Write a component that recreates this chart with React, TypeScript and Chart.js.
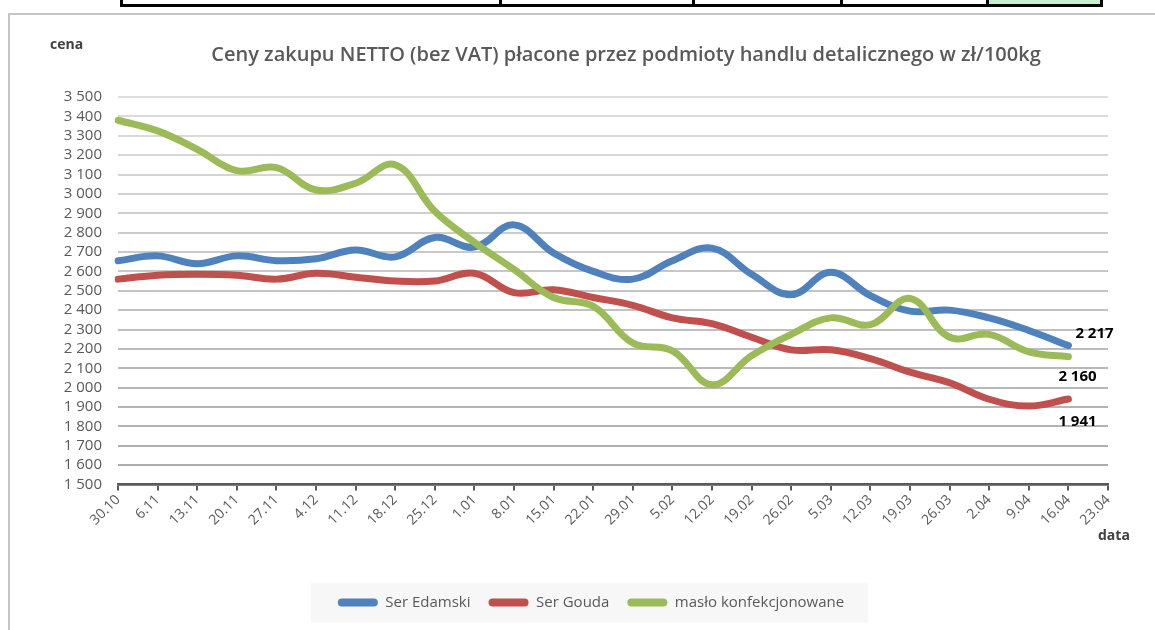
import React, { useEffect, useRef } from 'react';
import { Chart, registerables } from 'chart.js';

Chart.register(...registerables);

// ---- data ----
const dates = ['30.10', '6.11', '13.11', '20.11', '27.11', '4.12', '11.12', '18.12', '25.12', '1.01', '8.01', '15.01', '22.01', '29.01', '5.02', '12.02', '19.02', '26.02', '5.03', '12.03', '19.03', '26.03', '2.04', '9.04', '16.04', '23.04'];
const serEdamski = [2655, 2680, 2640, 2680, 2655, 2665, 2710, 2675, 2775, 2725, 2840, 2695, 2600, 2560, 2655, 2720, 2585, 2480, 2595, 2475, 2395, 2400, 2360, 2295, 2217];
const serGouda = [2560, 2580, 2585, 2580, 2560, 2590, 2570, 2550, 2550, 2590, 2490, 2505, 2465, 2425, 2360, 2330, 2260, 2195, 2195, 2150, 2080, 2025, 1940, 1905, 1941];
const masloKonf = [3380, 3325, 3230, 3120, 3135, 3020, 3055, 3150, 2910, 2750, 2610, 2465, 2420, 2230, 2190, 2015, 2165, 2275, 2360, 2325, 2460, 2260, 2275, 2185, 2160];
const seriesNames = ['Ser Edamski', 'Ser Gouda', 'masło konfekcjonowane'];
const titleText = 'Ceny zakupu NETTO (bez VAT) płacone przez podmioty handlu detalicznego w zł/100kg';
const yAxisTitle = 'cena';
const xAxisTitle = 'data';
const yMin = 1500;
const yMax = 3500;
const yStep = 100;

// ---- styles ----
const FONT = '"Open Sans", "Noto Sans", sans-serif';
const seriesColors = ['#4F81BD', '#C0504D', '#9BBB59'];
const endLabelOffsets = [
  [7, -12],
  [-10, 23],
  [-10, 20],
];
const CANVAS_H = 630;

const fmt = (v: number) => String(Math.round(v)).replace(/\B(?=(\d{3})+(?!\d))/g, '\u00a0');

function mix(a: number[], b: number[], t: number) {
  const c = a.map((v, i) => Math.round(v + (b[i] - v) * t));
  return `rgb(${c[0]},${c[1]},${c[2]})`;
}

const decorPlugin = {
  id: 'decor',
  beforeDraw(chart: any) {
    const ctx = chart.ctx;
    const lg = chart.legend;
    if (lg && lg.legendHitBoxes && lg.legendHitBoxes.length) {
      const hb = lg.legendHitBoxes;
      const l = Math.min(...hb.map((b: any) => b.left)) - 27;
      const r = Math.max(...hb.map((b: any) => b.left + b.width)) + 24;
      const t = hb[0].top + hb[0].height / 2 - 20;
      ctx.save();
      ctx.fillStyle = '#f7f7f7';
      ctx.fillRect(l, t, r - l, 40);
      ctx.restore();
    }
  },
  afterDatasetsDraw(chart: any) {
    const ctx = chart.ctx;
    ctx.save();
    ctx.font = `bold 15px ${FONT}`;
    ctx.fillStyle = '#000000';
    ctx.textAlign = 'left';
    ctx.textBaseline = 'middle';
    chart.data.datasets.forEach((ds: any, i: number) => {
      const meta = chart.getDatasetMeta(i);
      const pts = meta.data;
      const last = pts[ds.data.length - 1];
      if (!last) return;
      const v = ds.data[ds.data.length - 1];
      ctx.fillText(fmt(v), last.x + endLabelOffsets[i][0], last.y + endLabelOffsets[i][1]);
    });
    ctx.restore();
  },
  afterDraw(chart: any) {
    const ctx = chart.ctx;
    const area = chart.chartArea;
    ctx.save();
    ctx.fillStyle = '#595959';
    ctx.font = `600 20px ${FONT}`;
    ctx.textAlign = 'center';
    ctx.textBaseline = 'middle';
    ctx.fillText(titleText, 626, 55);
    ctx.fillStyle = '#404040';
    ctx.font = `bold 14px ${FONT}`;
    ctx.textAlign = 'left';
    ctx.fillText(yAxisTitle, 50, 45);
    ctx.fillText(xAxisTitle, area.right - 10, area.bottom + 52);
    ctx.restore();
  },
};

export default function App() {
  const ref = useRef<HTMLCanvasElement | null>(null);

  useEffect(() => {
    if (!ref.current) return;
    const series = [serEdamski, serGouda, masloKonf];
    const chart = new Chart(ref.current, {
      type: 'line',
      data: {
        labels: dates,
        datasets: series.map((d, i) => ({
          label: seriesNames[i],
          data: d,
          borderColor: seriesColors[i],
          backgroundColor: seriesColors[i],
          borderWidth: 7,
          tension: 0.4,
          pointRadius: 0,
          pointHoverRadius: 0,
          borderCapStyle: 'round' as const,
          borderJoinStyle: 'round' as const,
          fill: false,
          order: 3 - i,
          yAxisID: 'y',
        })),
      },
      options: {
        responsive: false,
        animation: false,
        devicePixelRatio: 1,
        events: [],
        layout: { padding: { top: 97, left: 27, right: 0, bottom: 10 } },
        plugins: {
          title: { display: false },
          tooltip: { enabled: false },
          legend: {
            display: true,
            position: 'bottom',
            labels: {
              boxWidth: 40,
              boxHeight: 8,
              padding: 18,
              color: '#595959',
              font: { family: FONT, size: 15 },
              useBorderRadius: true,
              borderRadius: 4,
              sort: (a: any, b: any) => a.datasetIndex - b.datasetIndex,
              generateLabels: (ch: any) =>
                ch.data.datasets.map((ds: any, i: number) => ({
                  text: ds.label,
                  fillStyle: seriesColors[i],
                  strokeStyle: seriesColors[i],
                  lineWidth: 0,
                  hidden: false,
                  datasetIndex: i,
                  fontColor: '#595959',
                  borderRadius: 4,
                })),
            },
          },
        },
        scales: {
          x: {
            type: 'category',
            offset: false,
            afterFit: (s: any) => {
              s.height = 92.5;
            },
            grid: {
              display: true,
              drawOnChartArea: false,
              drawTicks: true,
              tickLength: 6,
              color: '#595959',
              lineWidth: 2,
            },
            border: { display: true, color: '#595959', width: 2.5 },
            ticks: {
              autoSkip: false,
              maxRotation: 45,
              minRotation: 45,
              padding: 1,
              color: '#595959',
              font: { family: FONT, size: 14 },
            },
          },
          y: {
            type: 'linear',
            position: 'left',
            min: yMin,
            max: yMax,
            afterFit: (s: any) => {
              s.width = 91;
            },
            grid: {
              drawTicks: false,
              lineWidth: 2,
              color: (c: any) => {
                const n = (yMax - yMin) / yStep;
                const t = Math.min(1, Math.max(0, (c.index || 0) / n));
                return mix([170, 170, 170], [222, 222, 222], t);
              },
            },
            border: { display: false },
            ticks: {
              stepSize: yStep,
              autoSkip: false,
              padding: 16,
              color: '#595959',
              font: { family: FONT, size: 15 },
              callback: (v: any) => fmt(Number(v)),
            },
          },
          yRightSpace: {
            type: 'linear',
            position: 'right',
            display: true,
            min: yMin,
            max: yMax,
            afterFit: (s: any) => {
              s.width = 47;
            },
            grid: { display: false, drawOnChartArea: false },
            border: { display: false },
            ticks: { display: false },
          },
        },
      },
      plugins: [decorPlugin],
    });
    return () => chart.destroy();
  }, []);

  const black = '#000000';
  return (
    <div
      style={{
        position: 'fixed',
        left: 0,
        top: 0,
        width: 1155,
        height: 630,
        overflow: 'hidden',
        background: '#ffffff',
      }}
    >
      {/* table fragment at the top */}
      <div style={{ position: 'absolute', left: 988, top: 0, width: 112, height: 4, background: '#c6efce' }} />
      <div style={{ position: 'absolute', left: 120, top: 4, width: 983, height: 3, background: black }} />
      <div style={{ position: 'absolute', left: 120, top: 0, width: 3, height: 7, background: black }} />
      <div style={{ position: 'absolute', left: 499, top: 0, width: 3, height: 7, background: black }} />
      <div style={{ position: 'absolute', left: 692, top: 0, width: 3, height: 7, background: black }} />
      <div style={{ position: 'absolute', left: 840, top: 0, width: 3, height: 7, background: black }} />
      <div style={{ position: 'absolute', left: 986, top: 0, width: 3, height: 7, background: black }} />
      <div style={{ position: 'absolute', left: 1100, top: 0, width: 3, height: 7, background: black }} />
      {/* chart frame */}
      <div style={{ position: 'absolute', left: 8, top: 13, width: 1147, height: 2, background: '#c4c4c4' }} />
      <div style={{ position: 'absolute', left: 8, top: 13, width: 2, height: 617, background: '#c4c4c4' }} />
      <canvas
        ref={ref}
        width={1155}
        height={CANVAS_H}
        style={{ position: 'absolute', left: 0, top: 0, display: 'block', width: 1155, height: CANVAS_H }}
      />
    </div>
  );
}
